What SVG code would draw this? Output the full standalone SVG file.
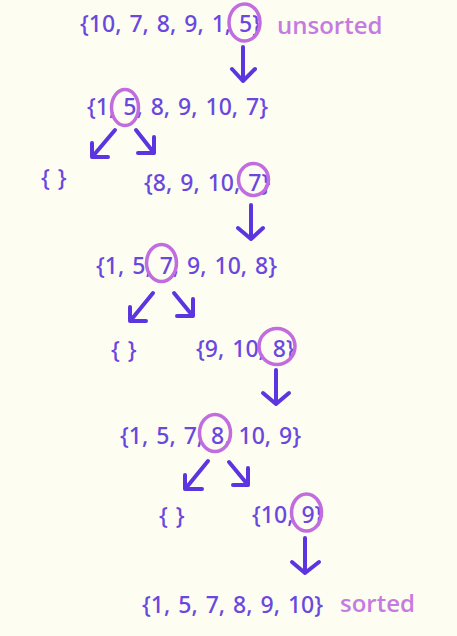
<svg xmlns="http://www.w3.org/2000/svg" width="457" height="636" viewBox="0 0 457 636">
<style>
.t{font-family:"Noto Sans","Open Sans",sans-serif;font-size:23px;font-weight:500;fill:#6A48DF;word-spacing:2px}
.lbl{font-family:"Open Sans","DejaVu Sans",sans-serif;font-size:24px;font-weight:600;fill:#C67BE0}
.c{fill:none;stroke:#C26DDF;stroke-width:3.5}
.a{fill:none;stroke:#5B35E0;stroke-width:4;stroke-linecap:round;stroke-linejoin:round}
</style>
<rect width="457" height="636" fill="#FDFDF1"/>
<g id="n1"><text class="t" x="80" y="32">{10, 7, 8, 9, 1, 5}</text><ellipse class="c" cx="244.5" cy="22.5" rx="15.5" ry="18.5"/></g>
<g id="unsorted"><text class="lbl" x="277" y="34">unsorted</text></g>
<g id="n2"><text class="t" x="87" y="115">{1, 5, 8, 9, 10, 7}</text><ellipse class="c" cx="125" cy="107.5" rx="13.5" ry="18"/></g>
<g id="n2l"><text class="t" x="41" y="186">{ }</text></g>
<g id="n2r"><text class="t" x="144" y="191">{8, 9, 10, 7}</text><ellipse class="c" cx="253.5" cy="179.5" rx="15" ry="16"/></g>
<g id="n3"><text class="t" x="96" y="274">{1, 5, 7, 9, 10, 8}</text><ellipse class="c" cx="161.5" cy="263" rx="15" ry="18.5"/></g>
<g id="n3l"><text class="t" x="111" y="358">{ }</text></g>
<g id="n3r"><text class="t" x="196" y="357">{9, 10, 8}</text><ellipse class="c" cx="277" cy="346.5" rx="18" ry="18"/></g>
<g id="n4"><text class="t" x="120" y="444">{1, 5, 7, 8, 10, 9}</text><ellipse class="c" cx="215" cy="433" rx="15.5" ry="18.5"/></g>
<g id="n4l"><text class="t" x="159" y="524">{ }</text></g>
<g id="n4r"><text class="t" x="252" y="523">{10, 9}</text><ellipse class="c" cx="306.5" cy="512.5" rx="15" ry="18.5"/></g>
<g id="n5"><text class="t" x="142" y="613">{1, 5, 7, 8, 9, 10}</text></g>
<g id="sorted"><text class="lbl" x="340" y="612">sorted</text></g>
<g id="connectors">
<path class="a" d="M243 47V81M232 69L243 81L255 69"/>
<path class="a" d="M115 130L93 156M92 143V157H108"/>
<path class="a" d="M136 130L154 153M154 137V153H138"/>
<path class="a" d="M251 205V239M238 228L251 239L263 228"/>
<path class="a" d="M153 293L131 320M130 307V321H146"/>
<path class="a" d="M174 293L192 315M193 299V316H177"/>
<path class="a" d="M276 370V404M263 393L276 404L289 393"/>
<path class="a" d="M208 461L186 488M185 475V489H202"/>
<path class="a" d="M229 462L248 485M248 468V485H233"/>
<path class="a" d="M305 538V573M292 562L305 573L319 562"/>
</g>
</svg>
